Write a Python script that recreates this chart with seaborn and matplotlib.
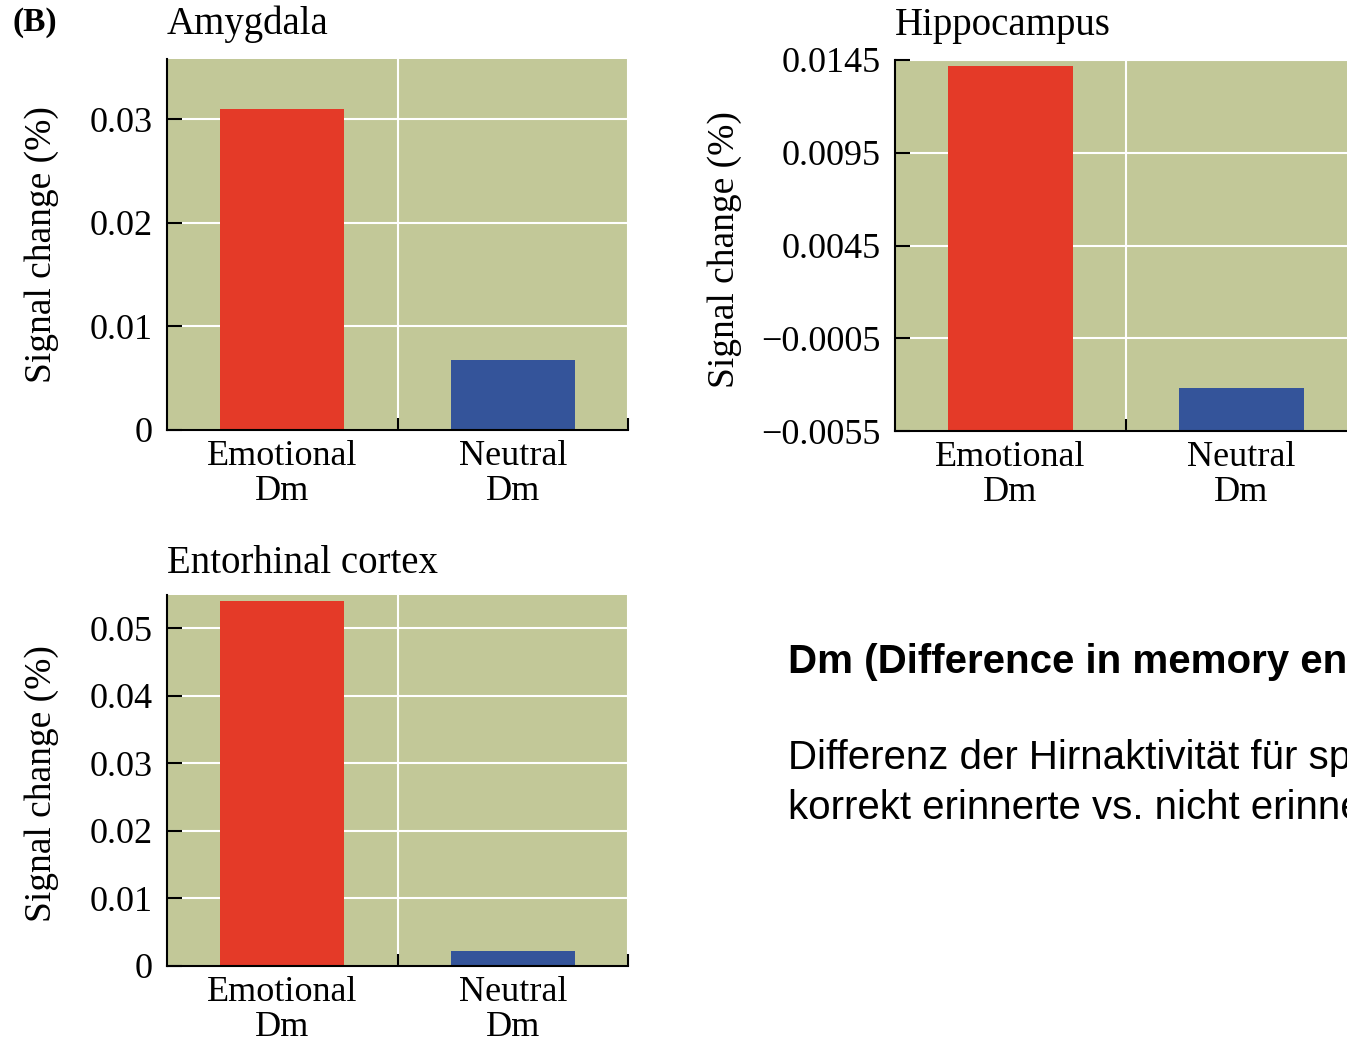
import numpy as np
import matplotlib.pyplot as plt
import seaborn as sns
from matplotlib.ticker import FixedLocator

# ── DATA ─────────────────────────────────────────────────────
categories = ['Emotional\nDm', 'Neutral\nDm']

amygdala_vals = [0.0310, 0.0068]
amygdala_ticks = [0, 0.01, 0.02, 0.03]
amygdala_labels = ['0', '0.01', '0.02', '0.03']
amygdala_ylim = (0, 0.0358)

hippo_vals = [0.0142, -0.0032]
hippo_ticks = [-0.0055, -0.0005, 0.0045, 0.0095, 0.0145]
hippo_labels = ['\u22120.0055', '\u22120.0005', '0.0045', '0.0095', '0.0145']
hippo_ylim = (-0.0055, 0.0145)

ento_vals = [0.0540, 0.0022]
ento_ticks = [0, 0.01, 0.02, 0.03, 0.04, 0.05]
ento_labels = ['0', '0.01', '0.02', '0.03', '0.04', '0.05']
ento_ylim = (0, 0.0549)

bar_colors = ['#E43A28', '#34549A']
bg_color = '#C2C898'

# ── STYLE ────────────────────────────────────────────────────
sns.set_style("white", {'axes.facecolor': bg_color, 'axes.edgecolor': 'black',
                        'text.color': 'black', 'axes.labelcolor': 'black',
                        'xtick.color': 'black', 'ytick.color': 'black'})
plt.rcParams['font.family'] = ['Liberation Serif', 'DejaVu Serif']
plt.rcParams['axes.axisbelow'] = True

FS = 26

fig = plt.figure(figsize=(13.47, 10.43), dpi=100)
W, H = 1347, 1043


def make_ax(left_px, top_px, right_px, bottom_px):
    return fig.add_axes([left_px / W, 1 - bottom_px / H,
                         (right_px - left_px) / W, (bottom_px - top_px) / H])


def draw_panel(ax, title, vals, ticks, labels, ylim, ylabel_x, ylabel_y, title_pad):
    base = ylim[0]
    # bars start at the bottom of the axis, like in the source figure
    sns.barplot(x=categories, y=np.array(vals) - base, hue=categories,
                palette=bar_colors, saturation=1, width=0.54, errorbar=None,
                legend=False, bottom=base, linewidth=0, ax=ax)
    ax.set_xlim(-0.5, 1.5)
    ax.set_ylim(*ylim)
    ax.set_yticks(ticks)
    ax.set_yticklabels(labels, fontsize=FS)
    ax.set_xticks([0, 1])
    ax.set_xticklabels(categories, fontsize=FS, linespacing=1.1)
    ax.xaxis.set_minor_locator(FixedLocator([0.5, 1.5]))
    ax.tick_params(axis='x', which='major', length=0, pad=7)
    ax.tick_params(axis='x', which='minor', direction='in', length=9, width=1.5,
                   color='black', bottom=True)
    ax.tick_params(axis='y', which='major', direction='in', length=11, width=1.5,
                   pad=10.5, color='black', left=True)
    ax.grid(axis='y', which='major', color='white', linewidth=1.5)
    ax.grid(axis='x', which='minor', color='white', linewidth=1.5)
    for side in ['top', 'right']:
        ax.spines[side].set_visible(False)
    for side in ['left', 'bottom']:
        ax.spines[side].set_linewidth(1.5)
        ax.spines[side].set_color('black')
    ax.set_xlabel('')
    ax.set_ylabel('Signal change (%)', fontsize=27, va='center')
    ax.yaxis.set_label_coords(ylabel_x, ylabel_y)
    ax.set_title(title, loc='left', fontsize=28, pad=title_pad)


ax1 = make_ax(167, 59, 628, 430)
draw_panel(ax1, 'Amygdala', amygdala_vals, amygdala_ticks, amygdala_labels,
           amygdala_ylim, -0.271, 0.5, 18)

ax2 = make_ax(895, 60, 1357, 431)
draw_panel(ax2, 'Hippocampus', hippo_vals, hippo_ticks, hippo_labels,
           hippo_ylim, -0.369, 0.488, 18)

ax3 = make_ax(167, 595, 628, 966)
draw_panel(ax3, 'Entorhinal cortex', ento_vals, ento_ticks, ento_labels,
           ento_ylim, -0.271, 0.493, 16)

# panel letter
fig.text(12 / W, 1 - 31 / H, '(B)', fontsize=24, fontweight='bold', va='baseline')

# explanation text on the right (runs off the right edge, as in the source slide)
sans = ['Liberation Sans', 'DejaVu Sans']
fig.text(788 / W, 1 - 673 / H, 'Dm (Difference in memory encoding)',
         fontsize=29, fontweight='bold', family=sans, va='baseline')
fig.text(788 / W, 1 - 769 / H, 'Differenz der Hirnaktivität für später',
         fontsize=29, family=sans, va='baseline')
fig.text(788 / W, 1 - 819 / H, 'korrekt erinnerte vs. nicht erinnerte Items',
         fontsize=29, family=sans, va='baseline')

plt.savefig('out.png', dpi=100)
